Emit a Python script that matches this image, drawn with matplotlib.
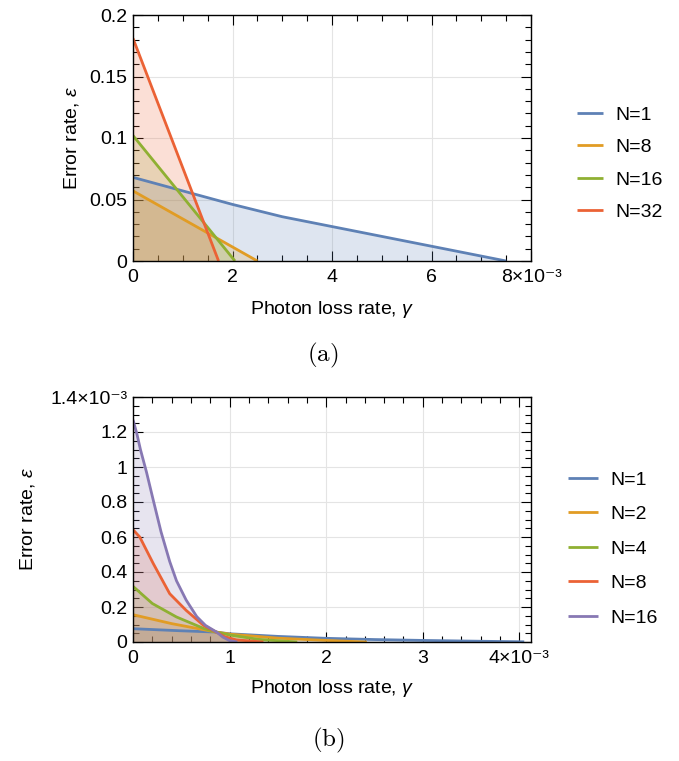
import numpy as np
import matplotlib.pyplot as plt
from matplotlib.ticker import MultipleLocator

plt.rcParams['font.family'] = ['Liberation Sans', 'DejaVu Sans']
plt.rcParams['mathtext.fontset'] = 'custom'
plt.rcParams['mathtext.rm'] = 'Liberation Sans'
plt.rcParams['mathtext.it'] = 'Liberation Sans:italic'

# panel (a): photon loss rate in units of 1e-3
a_labels = ['N=1', 'N=8', 'N=16', 'N=32']
a_x1 = [0, 1, 2, 3, 4, 5, 6, 7, 7.5]
a_y1 = [0.068, 0.057, 0.046, 0.036, 0.028, 0.020, 0.012, 0.004, 0.0]
a_x8 = [0, 2.5]
a_y8 = [0.057, 0.0]
a_x16 = [0, 2.05]
a_y16 = [0.102, 0.0]
a_x32 = [0, 1.72]
a_y32 = [0.181, 0.0]
a_xticks = [0, 2, 4, 6, 8]
a_xticklabels = ['0', '2', '4', '6', '8×10⁻³']
a_yticks = [0, 0.05, 0.1, 0.15, 0.2]
a_yticklabels = ['0', '0.05', '0.1', '0.15', '0.2']

# panel (b): x in units of 1e-3, y in units of 1e-3
b_labels = ['N=1', 'N=2', 'N=4', 'N=8', 'N=16']
b_x1 = [0, 0.5, 0.85, 1.0, 1.5, 2.0, 2.5, 3.0, 3.5, 4.05]
b_y1 = [0.076, 0.064, 0.057, 0.047, 0.032, 0.021, 0.014, 0.009, 0.005, 0.001]
b_x2 = [0, 0.4, 0.85, 1.0, 1.5, 2.0, 2.42]
b_y2 = [0.156, 0.105, 0.058, 0.045, 0.022, 0.009, 0.0]
b_x4 = [0, 0.2, 0.45, 0.73, 0.85, 1.0, 1.3, 1.7]
b_y4 = [0.318, 0.22, 0.143, 0.078, 0.058, 0.04, 0.015, 0.0]
b_x8 = [0, 0.07, 0.21, 0.38, 0.55, 0.73, 0.86, 0.95, 1.07, 1.35]
b_y8 = [0.642, 0.6, 0.448, 0.276, 0.181, 0.095, 0.057, 0.03, 0.012, 0.0]
b_x16 = [0, 0.04, 0.077, 0.14, 0.21, 0.29, 0.38, 0.45, 0.55, 0.66, 0.75, 0.87, 0.93, 1.0, 1.08]
b_y16 = [1.27, 1.19, 1.1, 0.97, 0.81, 0.63, 0.46, 0.35, 0.24, 0.145, 0.095, 0.055, 0.028, 0.008, 0.0]
b_xticks = [0, 1, 2, 3, 4]
b_xticklabels = ['0', '1', '2', '3', '4×10⁻³']
b_yticks = [0, 0.2, 0.4, 0.6, 0.8, 1.0, 1.2, 1.4]
b_yticklabels = ['0', '0.2', '0.4', '0.6', '0.8', '1', '1.2', '1.4×10⁻³']

colors = ['#5E81B5', '#E19C24', '#8FB032', '#EB6235', '#8778B3']
FS = 14

fig = plt.figure(figsize=(6.79, 7.61), dpi=100)
ax1 = fig.add_axes([133/679, 1 - 261/761, 398/679, 246/761])
ax2 = fig.add_axes([133/679, 1 - 642/761, 398/679, 245/761])


def style(ax):
    ax.grid(True, color='#e4e4e4', lw=0.8)
    ax.set_axisbelow(True)
    ax.tick_params(which='both', direction='in', top=True, right=True, labelsize=FS)
    ax.tick_params(axis='x', pad=6)
    ax.tick_params(axis='y', pad=4)
    ax.tick_params(which='major', length=7, width=0.8)
    ax.tick_params(which='minor', length=4, width=0.8)
    for s in ax.spines.values():
        s.set_linewidth(1.0)


a_series = [(a_x1, a_y1), (a_x8, a_y8), (a_x16, a_y16), (a_x32, a_y32)]
for (x, y), c, lab in zip(a_series, colors[:4], a_labels):
    ax1.fill_between(x, y, 0, color=c, alpha=0.2, lw=0)
    ax1.plot(x, y, color=c, lw=2, label=lab, solid_capstyle='butt')
ax1.set_xlim(0, 8)
ax1.set_ylim(0, 0.2)
ax1.set_xticks(a_xticks)
ax1.set_xticklabels(a_xticklabels)
ax1.set_yticks(a_yticks)
ax1.set_yticklabels(a_yticklabels)
ax1.xaxis.set_minor_locator(MultipleLocator(0.5))
ax1.yaxis.set_minor_locator(MultipleLocator(0.01))
style(ax1)
ax1.set_xlabel(r'Photon loss rate, $\gamma$', fontsize=FS, labelpad=9)
ax1.set_ylabel(r'Error rate, $\varepsilon$', fontsize=FS)
ax1.yaxis.set_label_coords(-0.131, 0.5)
ax1.legend(loc='center left', bbox_to_anchor=(1.072, 0.396), frameon=False, fontsize=FS,
           handlelength=1.34, handletextpad=0.62, labelspacing=0.76)

b_series = [(b_x1, b_y1), (b_x2, b_y2), (b_x4, b_y4), (b_x8, b_y8), (b_x16, b_y16)]
for (x, y), c, lab in zip(b_series, colors, b_labels):
    ax2.fill_between(x, y, 0, color=c, alpha=0.2, lw=0)
    ax2.plot(x, y, color=c, lw=2, label=lab, solid_capstyle='butt')
ax2.set_xlim(0, 4.12)
ax2.set_ylim(0, 1.4)
ax2.set_xticks(b_xticks)
ax2.set_xticklabels(b_xticklabels)
ax2.set_yticks(b_yticks)
ax2.set_yticklabels(b_yticklabels)
ax2.xaxis.set_minor_locator(MultipleLocator(0.2))
ax2.yaxis.set_minor_locator(MultipleLocator(0.05))
style(ax2)
ax2.set_xlabel(r'Photon loss rate, $\gamma$', fontsize=FS, labelpad=8)
ax2.set_ylabel(r'Error rate, $\varepsilon$', fontsize=FS)
ax2.yaxis.set_label_coords(-0.241, 0.5)
ax2.legend(loc='center left', bbox_to_anchor=(1.05, 0.38), frameon=False, fontsize=FS,
           handlelength=1.5, handletextpad=0.67, labelspacing=0.87)

fig.text(323/679, 1 - 355/761, r'$\mathrm{(a)}$', ha='center', va='center', fontsize=18,
         math_fontfamily='cm')
fig.text(328/679, 1 - 740/761, r'$\mathrm{(b)}$', ha='center', va='center', fontsize=18,
         math_fontfamily='cm')

fig.savefig('out.png', dpi=100)
